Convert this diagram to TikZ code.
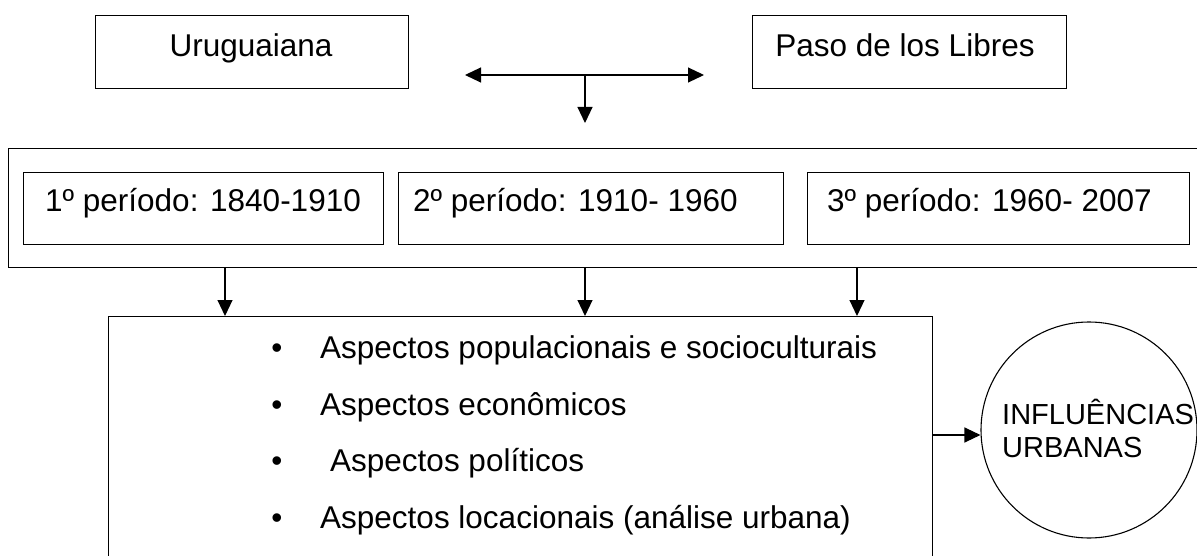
\documentclass[tikz,border=0pt]{standalone}
\usepackage{fontspec}
\setmainfont{Liberation Sans}
\usetikzlibrary{arrows.meta}
\begin{document}
\begin{tikzpicture}[x=1pt,y=-1pt,
  box/.style={draw, line width=1.1pt, rectangle, inner sep=0pt, anchor=north west},
  txt/.style={inner sep=0pt, anchor=base west, font=\fontsize{31.5}{36}\selectfont},
  ctxt/.style={inner sep=0pt, anchor=base, font=\fontsize{31.5}{36}\selectfont},
  stxt/.style={inner sep=0pt, anchor=base west, font=\fontsize{29}{33}\selectfont},
  arr/.style={line width=1.1pt, -{Triangle[length=16pt,width=15pt]}},
  ]
\useasboundingbox (0,0) rectangle (1197,556);
\clip (0,0) rectangle (1197,556);
% top boxes
\node[box, minimum width=313pt, minimum height=73pt] (uru) at (95,15) {};
\node[box, minimum width=314pt, minimum height=73pt] (paso) at (752,15) {};
\node[ctxt] (urut) at (251,57) {Uruguaiana};
\node[ctxt] (pasot) at (905,57) {Paso de los Libres};
% top arrows
\coordinate (hub) at (585,75);
\coordinate (lt) at (465,75);
\coordinate (rt) at (704,75);
\coordinate (dn) at (585,123);
\draw[arr] (hub) -- (lt);
\draw[arr] (hub) -- (rt);
\draw[arr] (hub) -- (dn);
% period container
\node[box, minimum width=1210pt, minimum height=119pt] (outer) at (8,148) {};
\node[box, minimum width=360pt, minimum height=72pt] (p1) at (23,172) {};
\node[box, minimum width=385pt, minimum height=72pt] (p2) at (398,172) {};
\node[box, minimum width=382pt, minimum height=72pt] (p3) at (807,172) {};
\node[txt] (p1t) at (45,212) {1º período: 1840-1910};
\node[txt] (p2t) at (413,212) {2º período: 1910- 1960};
\node[txt] (p3t) at (827,212) {3º período: 1960- 2007};
% aspects box
\node[box, minimum width=824pt, minimum height=300pt] (big) at (108,316) {};
\coordinate (d1) at (225,0);
\coordinate (d2) at (585,0);
\coordinate (d3) at (857,0);
\draw[arr] (outer.south -| d1) -- (big.north -| d1);
\draw[arr] (outer.south -| d2) -- (big.north -| d2);
\draw[arr] (outer.south -| d3) -- (big.north -| d3);
\node[ctxt] (b1) at (277,358) {•};
\node[ctxt] (b2) at (277,415) {•};
\node[ctxt] (b3) at (277,471) {•};
\node[ctxt] (b4) at (277,528) {•};
\node[txt] (a1) at (320,358) {Aspectos populacionais e socioculturais};
\node[txt] (a2) at (320,415) {Aspectos econômicos};
\node[txt] (a3) at (330,471) {Aspectos políticos};
\node[txt] (a4) at (320,528) {Aspectos locacionais (análise urbana)};
% circle
\node[draw, circle, line width=1.1pt, minimum size=216pt, inner sep=0pt] (circ) at (1089,430) {};
\node[stxt] (c1) at (1002,424) {INFLUÊNCIAS};
\node[stxt] (c2) at (1002,457) {URBANAS};
\coordinate (m) at (0,435);
\draw[arr] (big.east |- m) -- (circ.west |- m);
\end{tikzpicture}
\end{document}
